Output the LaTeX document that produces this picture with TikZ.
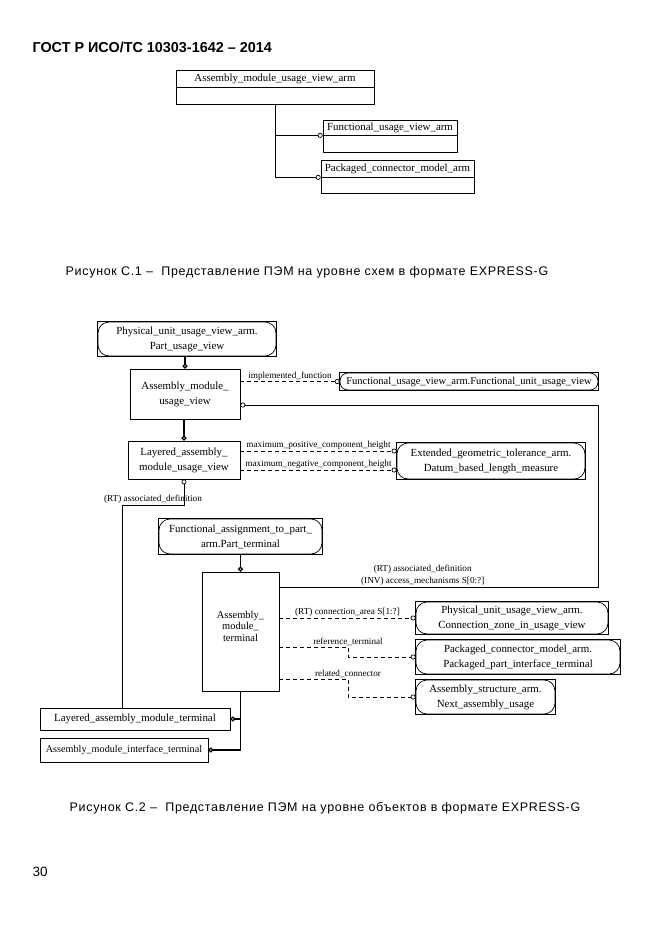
\documentclass[tikz,border=0pt]{standalone}
\usepackage{fontspec}
\setmainfont{Liberation Serif}
\newfontfamily\arialfont{Liberation Sans}
\usetikzlibrary{arrows.meta,positioning}
\tikzset{
  ent/.style={draw, line width=0.7pt, align=center, inner sep=1pt, font=\fontsize{10.9}{15}\selectfont},
  sch/.style={ent, font=\fontsize{10.9}{12}\selectfont},
  refb/.style={ent, rounded corners=11pt},
  lbl/.style={inner sep=1pt, font=\fontsize{9.2}{12}\selectfont},
  attr/.style={line width=0.7pt, -{Circle[open, length=5pt, width=5pt]}},
  opt/.style={attr, dash pattern=on 4pt off 3pt},
  sub/.style={line width=1.8pt, -{Circle[open, length=5pt, width=5pt, line width=1.2pt]}},
  captxt/.style={font=\arialfont\fontsize{12.5}{14}\selectfont\addfontfeature{LetterSpace=5.5}},
}
\begin{document}
\begin{tikzpicture}[x=1pt, y=-1pt]
\useasboundingbox (0,0) rectangle (661,935);

\node[anchor=west, font=\arialfont\bfseries\fontsize{14.4}{16}\selectfont] (hdr) at (29,47) {ГОСТ Р ИСО/ТС 10303-1642 – 2014};

\node[sch, minimum width=198pt, minimum height=17pt] (amuv) at (275,78.5) {Assembly\_module\_usage\_view\_arm};
\node[sch, minimum width=198pt, minimum height=17pt, below=0pt of amuv] (amuvl) {};
\node[sch, minimum width=134pt, minimum height=15pt] (fuv) at (390,127.5) {Functional\_usage\_view\_arm};
\node[sch, minimum width=134pt, minimum height=17pt, below=0pt of fuv] (fuvl) {};
\node[sch, minimum width=153pt, minimum height=17pt] (pcm) at (397.5,168.5) {Packaged\_connector\_model\_arm};
\node[sch, minimum width=153pt, minimum height=16pt, below=0pt of pcm] (pcml) {};

\draw[attr] (amuvl.south) |- (fuv.south west);
\draw[attr] (amuvl.south) |- (pcm.south west);

\node[captxt] (cap1) at (307,272) {Рисунок С.1 –~ Представление ПЭМ на уровне схем в формате EXPRESS-G};

\node[refb, minimum width=178pt, minimum height=34pt] (puv) at (187,339) {Physical\_unit\_usage\_view\_arm.\\Part\_usage\_view};
\node[ent, minimum width=110pt, minimum height=50pt] (amv) at (185,394) {Assembly\_module\_\\usage\_view};
\node[refb, rounded corners=8pt, minimum width=258pt, minimum height=17pt, font=\fontsize{10.5}{12}\selectfont] (fuu) at (469,381.5) {Functional\_usage\_view\_arm.Functional\_unit\_usage\_view};
\node[ent, minimum width=112pt, minimum height=38pt] (lamv) at (184,460) {Layered\_assembly\_\\module\_usage\_view};
\node[refb, minimum width=188pt, minimum height=36pt] (dbl) at (491,461) {Extended\_geometric\_tolerance\_arm.\\Datum\_based\_length\_measure};
\node[refb, minimum width=163pt, minimum height=35pt] (fap) at (240.5,536.5) {Functional\_assignment\_to\_part\_\\arm.Part\_terminal};
\node[ent, minimum width=77pt, minimum height=119pt, text depth=11pt, font=\fontsize{10.5}{11.5}\selectfont] (amt) at (240.5,631.5) {Assembly\_\\module\_\\terminal};
\node[refb, minimum width=192pt, minimum height=32pt] (czv) at (512,618) {Physical\_unit\_usage\_view\_arm.\\Connection\_zone\_in\_usage\_view};
\node[refb, minimum width=204pt, minimum height=34pt] (ppit) at (518,657) {Packaged\_connector\_model\_arm.\\Packaged\_part\_interface\_terminal};
\node[refb, minimum width=139pt, minimum height=34pt] (nau) at (485.5,697) {Assembly\_structure\_arm.\\Next\_assembly\_usage};
\node[ent, minimum width=190pt, minimum height=22pt] (lamt) at (135,719) {Layered\_assembly\_module\_terminal};
\node[ent, minimum width=168pt, minimum height=24pt, font=\fontsize{10.2}{12}\selectfont] (amit) at (124,750) {Assembly\_module\_interface\_terminal};

\foreach \n in {puv,fuu,dbl,fap,czv,ppit,nau}
  \draw[line width=0.7pt] (\n.north west) rectangle (\n.south east);

\draw[sub] (puv.south -| amv.north) -- (amv.north);
\draw[opt] (amv.east |- fuu.west) -- node[lbl, above] {implemented\_function} (fuu.west);
\coordinate (bk) at (598,587);
\draw[attr] (amt.east |- bk) -- node[lbl, above, align=center, pos=0.45] {(RT) associated\_definition\\(INV) access\_mechanisms S[0:?]} (bk) |- ([yshift=-11pt]amv.east);

\draw[sub] (amv.south -| lamv.north) -- (lamv.north);
\draw[opt] ([yshift=9pt]lamv.east) -- node[lbl, above] {maximum\_positive\_component\_height} ([yshift=9pt]lamv.east -| dbl.west);
\draw[opt] ([yshift=-10pt]lamv.east) -- node[lbl, above] {maximum\_negative\_component\_height} ([yshift=-10pt]lamv.east -| dbl.west);

\coordinate (ad) at (122,505);
\draw[attr] (lamt.north -| ad) -- (ad) -- node[lbl, above] {(RT) associated\_definition} (ad -| lamv.south) -- (lamv.south);

\draw[sub] (fap.south -| amt.north) -- (amt.north);
\draw[opt] (amt.east |- czv.west) -- node[lbl, above] {(RT) connection\_area S[1:?]} (czv.west);
\coordinate (rt) at (348,647);
\draw[opt] (amt.east |- rt) -- (rt) node[lbl, above] {reference\_terminal} |- (ppit.west);
\coordinate (rc) at (348,679);
\draw[opt] (amt.east |- rc) -- (rc) node[lbl, above] {related\_connector} |- (nau.west);

\draw[sub] (amt.south) |- (lamt.east);
\draw[sub] (amt.south) |- (amit.east);

\node[captxt] (cap2) at (325,808) {Рисунок С.2 –~ Представление ПЭМ на уровне объектов в формате EXPRESS-G};
\node[anchor=west, font=\arialfont\fontsize{13.5}{15}\selectfont] (pg) at (29,872) {30};
\end{tikzpicture}
\end{document}
